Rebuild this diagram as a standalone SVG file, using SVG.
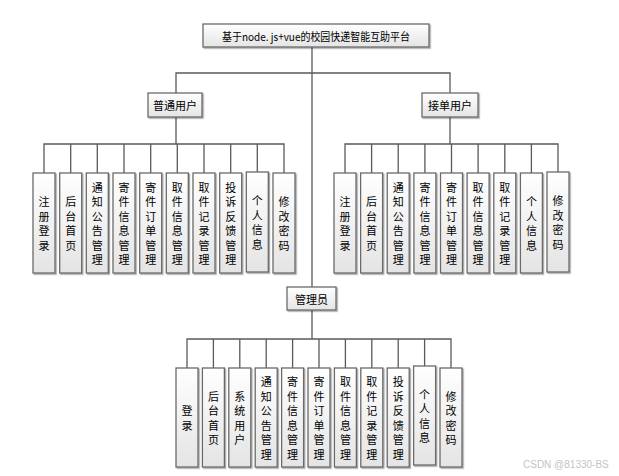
<svg xmlns="http://www.w3.org/2000/svg" width="619" height="476" viewBox="0 0 619 476">
<defs>
<linearGradient id="g" x1="0" y1="0" x2="0" y2="1">
<stop offset="0" stop-color="#ffffff"/>
<stop offset="1" stop-color="#e4e4e4"/>
</linearGradient>
<filter id="sh" x="-20%" y="-20%" width="150%" height="150%">
<feDropShadow dx="1.2" dy="1.2" stdDeviation="0.6" flood-color="#000" flood-opacity="0.35"/>
</filter>
<style>
.b{fill:url(#g);stroke:#6a6a6a;stroke-width:1.3;filter:url(#sh)}
.t{font-family:"Noto Sans CJK SC","Liberation Sans",sans-serif;font-size:11px;fill:#000;text-anchor:middle;dominant-baseline:central}
.c{fill:none;stroke:#5a5a5a;stroke-width:1.3}
.w{font-family:"Liberation Sans",sans-serif;font-size:10px;fill:#c4c4c4}
</style>
</defs>
<rect width="619" height="476" fill="#fff"/>
<g id="connectors" class="c">
<path d="M312,47V287"/>
<path d="M176,93V73H450V93"/>
<path d="M176,117V144M44,173V144H284V173M70.7,144V173M97.3,144V173M124,144V173M150.7,144V173M177.3,144V173M204,144V173M230.7,144V173M257.3,144V173"/>
<path d="M450,117V144M345,173V144H558V173M371.6,144V173M398.2,144V173M424.9,144V173M451.5,144V173M478.1,144V173M504.8,144V173M531.4,144V173"/>
<path d="M312,310V339M187,368V339H451V368M213.4,339V368M239.8,339V368M266.2,339V368M292.6,339V368M319,339V368M345.4,339V368M371.8,339V368M398.2,339V368M424.6,339V368"/>
</g>
<g id="root"><rect class="b" x="203" y="24" width="226" height="23"/><text class="t" x="316" y="35.5" textLength="188" lengthAdjust="spacingAndGlyphs">基于node. js+vue的校园快递智能互助平台</text></g>
<g id="user"><rect class="b" x="148" y="93" width="54" height="24"/><text class="t" x="175" y="105">普通用户</text></g>
<g id="courier"><rect class="b" x="422" y="93" width="56" height="24"/><text class="t" x="450" y="105">接单用户</text></g>
<g id="admin"><rect class="b" x="287" y="287" width="49" height="23"/><text class="t" x="311.5" y="298.5">管理员</text></g>

<g id="u1"><rect class="b" x="33" y="173" width="22" height="100"/><text class="t" x="44" y="201.25">注<tspan x="44" dy="14.5">册</tspan><tspan x="44" dy="14.5">登</tspan><tspan x="44" dy="14.5">录</tspan></text></g>
<g id="u2"><rect class="b" x="59.7" y="173" width="22" height="100"/><text class="t" x="70.7" y="201.25">后<tspan x="70.7" dy="14.5">台</tspan><tspan x="70.7" dy="14.5">首</tspan><tspan x="70.7" dy="14.5">页</tspan></text></g>
<g id="u3"><rect class="b" x="86.3" y="173" width="22" height="100"/><text class="t" x="97.3" y="186.75">通<tspan x="97.3" dy="14.5">知</tspan><tspan x="97.3" dy="14.5">公</tspan><tspan x="97.3" dy="14.5">告</tspan><tspan x="97.3" dy="14.5">管</tspan><tspan x="97.3" dy="14.5">理</tspan></text></g>
<g id="u4"><rect class="b" x="113" y="173" width="22" height="100"/><text class="t" x="124" y="186.75">寄<tspan x="124" dy="14.5">件</tspan><tspan x="124" dy="14.5">信</tspan><tspan x="124" dy="14.5">息</tspan><tspan x="124" dy="14.5">管</tspan><tspan x="124" dy="14.5">理</tspan></text></g>
<g id="u5"><rect class="b" x="139.7" y="173" width="22" height="100"/><text class="t" x="150.7" y="186.75">寄<tspan x="150.7" dy="14.5">件</tspan><tspan x="150.7" dy="14.5">订</tspan><tspan x="150.7" dy="14.5">单</tspan><tspan x="150.7" dy="14.5">管</tspan><tspan x="150.7" dy="14.5">理</tspan></text></g>
<g id="u6"><rect class="b" x="166.3" y="173" width="22" height="100"/><text class="t" x="177.3" y="186.75">取<tspan x="177.3" dy="14.5">件</tspan><tspan x="177.3" dy="14.5">信</tspan><tspan x="177.3" dy="14.5">息</tspan><tspan x="177.3" dy="14.5">管</tspan><tspan x="177.3" dy="14.5">理</tspan></text></g>
<g id="u7"><rect class="b" x="193" y="173" width="22" height="100"/><text class="t" x="204" y="186.75">取<tspan x="204" dy="14.5">件</tspan><tspan x="204" dy="14.5">记</tspan><tspan x="204" dy="14.5">录</tspan><tspan x="204" dy="14.5">管</tspan><tspan x="204" dy="14.5">理</tspan></text></g>
<g id="u8"><rect class="b" x="219.7" y="173" width="22" height="100"/><text class="t" x="230.7" y="186.75">投<tspan x="230.7" dy="14.5">诉</tspan><tspan x="230.7" dy="14.5">反</tspan><tspan x="230.7" dy="14.5">馈</tspan><tspan x="230.7" dy="14.5">管</tspan><tspan x="230.7" dy="14.5">理</tspan></text></g>
<g id="u9"><rect class="b" x="246.3" y="172" width="22" height="100"/><text class="t" x="257.3" y="200.25">个<tspan x="257.3" dy="14.5">人</tspan><tspan x="257.3" dy="14.5">信</tspan><tspan x="257.3" dy="14.5">息</tspan></text></g>
<g id="u10"><rect class="b" x="273" y="173" width="22" height="100"/><text class="t" x="284" y="201.25">修<tspan x="284" dy="14.5">改</tspan><tspan x="284" dy="14.5">密</tspan><tspan x="284" dy="14.5">码</tspan></text></g>

<g id="c1"><rect class="b" x="334" y="173" width="22" height="100"/><text class="t" x="345" y="201.25">注<tspan x="345" dy="14.5">册</tspan><tspan x="345" dy="14.5">登</tspan><tspan x="345" dy="14.5">录</tspan></text></g>
<g id="c2"><rect class="b" x="360.6" y="173" width="22" height="100"/><text class="t" x="371.6" y="201.25">后<tspan x="371.6" dy="14.5">台</tspan><tspan x="371.6" dy="14.5">首</tspan><tspan x="371.6" dy="14.5">页</tspan></text></g>
<g id="c3"><rect class="b" x="387.2" y="173" width="22" height="100"/><text class="t" x="398.2" y="186.75">通<tspan x="398.2" dy="14.5">知</tspan><tspan x="398.2" dy="14.5">公</tspan><tspan x="398.2" dy="14.5">告</tspan><tspan x="398.2" dy="14.5">管</tspan><tspan x="398.2" dy="14.5">理</tspan></text></g>
<g id="c4"><rect class="b" x="413.9" y="173" width="22" height="100"/><text class="t" x="424.9" y="186.75">寄<tspan x="424.9" dy="14.5">件</tspan><tspan x="424.9" dy="14.5">信</tspan><tspan x="424.9" dy="14.5">息</tspan><tspan x="424.9" dy="14.5">管</tspan><tspan x="424.9" dy="14.5">理</tspan></text></g>
<g id="c5"><rect class="b" x="440.5" y="173" width="22" height="100"/><text class="t" x="451.5" y="186.75">寄<tspan x="451.5" dy="14.5">件</tspan><tspan x="451.5" dy="14.5">订</tspan><tspan x="451.5" dy="14.5">单</tspan><tspan x="451.5" dy="14.5">管</tspan><tspan x="451.5" dy="14.5">理</tspan></text></g>
<g id="c6"><rect class="b" x="467.1" y="173" width="22" height="100"/><text class="t" x="478.1" y="186.75">取<tspan x="478.1" dy="14.5">件</tspan><tspan x="478.1" dy="14.5">信</tspan><tspan x="478.1" dy="14.5">息</tspan><tspan x="478.1" dy="14.5">管</tspan><tspan x="478.1" dy="14.5">理</tspan></text></g>
<g id="c7"><rect class="b" x="493.8" y="173" width="22" height="100"/><text class="t" x="504.8" y="186.75">取<tspan x="504.8" dy="14.5">件</tspan><tspan x="504.8" dy="14.5">记</tspan><tspan x="504.8" dy="14.5">录</tspan><tspan x="504.8" dy="14.5">管</tspan><tspan x="504.8" dy="14.5">理</tspan></text></g>
<g id="c8"><rect class="b" x="520.4" y="173" width="22" height="100"/><text class="t" x="531.4" y="201.25">个<tspan x="531.4" dy="14.5">人</tspan><tspan x="531.4" dy="14.5">信</tspan><tspan x="531.4" dy="14.5">息</tspan></text></g>
<g id="c9"><rect class="b" x="547" y="172" width="22" height="100"/><text class="t" x="558" y="200.25">修<tspan x="558" dy="14.5">改</tspan><tspan x="558" dy="14.5">密</tspan><tspan x="558" dy="14.5">码</tspan></text></g>

<g id="a1"><rect class="b" x="176" y="368" width="22" height="99"/><text class="t" x="187" y="410.25">登<tspan x="187" dy="14.5">录</tspan></text></g>
<g id="a2"><rect class="b" x="202.4" y="368" width="22" height="99"/><text class="t" x="213.4" y="395.75">后<tspan x="213.4" dy="14.5">台</tspan><tspan x="213.4" dy="14.5">首</tspan><tspan x="213.4" dy="14.5">页</tspan></text></g>
<g id="a3"><rect class="b" x="228.8" y="368" width="22" height="99"/><text class="t" x="239.8" y="395.75">系<tspan x="239.8" dy="14.5">统</tspan><tspan x="239.8" dy="14.5">用</tspan><tspan x="239.8" dy="14.5">户</tspan></text></g>
<g id="a4"><rect class="b" x="255.2" y="368" width="22" height="99"/><text class="t" x="266.2" y="381.25">通<tspan x="266.2" dy="14.5">知</tspan><tspan x="266.2" dy="14.5">公</tspan><tspan x="266.2" dy="14.5">告</tspan><tspan x="266.2" dy="14.5">管</tspan><tspan x="266.2" dy="14.5">理</tspan></text></g>
<g id="a5"><rect class="b" x="281.6" y="368" width="22" height="99"/><text class="t" x="292.6" y="381.25">寄<tspan x="292.6" dy="14.5">件</tspan><tspan x="292.6" dy="14.5">信</tspan><tspan x="292.6" dy="14.5">息</tspan><tspan x="292.6" dy="14.5">管</tspan><tspan x="292.6" dy="14.5">理</tspan></text></g>
<g id="a6"><rect class="b" x="308" y="368" width="22" height="99"/><text class="t" x="319" y="381.25">寄<tspan x="319" dy="14.5">件</tspan><tspan x="319" dy="14.5">订</tspan><tspan x="319" dy="14.5">单</tspan><tspan x="319" dy="14.5">管</tspan><tspan x="319" dy="14.5">理</tspan></text></g>
<g id="a7"><rect class="b" x="334.4" y="368" width="22" height="99"/><text class="t" x="345.4" y="381.25">取<tspan x="345.4" dy="14.5">件</tspan><tspan x="345.4" dy="14.5">信</tspan><tspan x="345.4" dy="14.5">息</tspan><tspan x="345.4" dy="14.5">管</tspan><tspan x="345.4" dy="14.5">理</tspan></text></g>
<g id="a8"><rect class="b" x="360.8" y="368" width="22" height="99"/><text class="t" x="371.8" y="381.25">取<tspan x="371.8" dy="14.5">件</tspan><tspan x="371.8" dy="14.5">记</tspan><tspan x="371.8" dy="14.5">录</tspan><tspan x="371.8" dy="14.5">管</tspan><tspan x="371.8" dy="14.5">理</tspan></text></g>
<g id="a9"><rect class="b" x="387.2" y="368" width="22" height="99"/><text class="t" x="398.2" y="381.25">投<tspan x="398.2" dy="14.5">诉</tspan><tspan x="398.2" dy="14.5">反</tspan><tspan x="398.2" dy="14.5">馈</tspan><tspan x="398.2" dy="14.5">管</tspan><tspan x="398.2" dy="14.5">理</tspan></text></g>
<g id="a10"><rect class="b" x="413.6" y="366" width="22" height="99"/><text class="t" x="424.6" y="393.75">个<tspan x="424.6" dy="14.5">人</tspan><tspan x="424.6" dy="14.5">信</tspan><tspan x="424.6" dy="14.5">息</tspan></text></g>
<g id="a11"><rect class="b" x="440" y="368" width="22" height="99"/><text class="t" x="451" y="395.75">修<tspan x="451" dy="14.5">改</tspan><tspan x="451" dy="14.5">密</tspan><tspan x="451" dy="14.5">码</tspan></text></g>

<text class="w" x="523" y="468">CSDN @81330-BS</text>
</svg>
